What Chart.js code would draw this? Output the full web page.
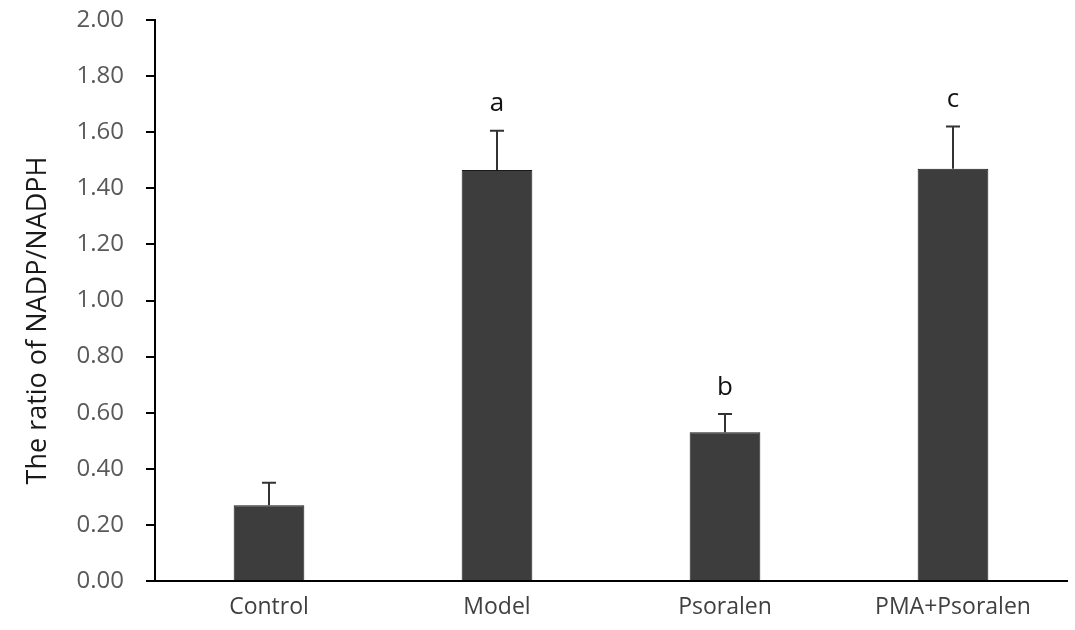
<!DOCTYPE html>
<html>
<head>
<meta charset="utf-8">
<script src="https://cdn.jsdelivr.net/npm/chart.js@4"></script>
<style>
    body { margin: 0; background: #fff; }
    #wrap { width: 1075px; height: 630px; }
</style>
</head>
<body>
<div id="wrap"><canvas id="ratioChart"></canvas></div>
<script>
// Data
const categories = ['Control', 'Model', 'Psoralen', 'PMA+Psoralen'];
const ratioValues = [0.27, 1.465, 0.53, 1.47];
const errorValues = [0.08, 0.14, 0.065, 0.15];
const sigLetters = ['', 'a', 'b', 'c'];
const yTicks = [0, 0.2, 0.4, 0.6, 0.8, 1.0, 1.2, 1.4, 1.6, 1.8, 2.0];
const yTitle = 'The ratio of NADP/NADPH';

const FONT = '"Open Sans", "Noto Sans", sans-serif';

// Error bars (upper only) + significance letters
const errorBarPlugin = {
    id: 'errorBars',
    afterDatasetsDraw(chart) {
        const ctx = chart.ctx;
        const yScale = chart.scales.y;
        const meta = chart.getDatasetMeta(0);
        ctx.save();
        meta.data.forEach((bar, i) => {
            const top = yScale.getPixelForValue(ratioValues[i] + errorValues[i]);
            const base = yScale.getPixelForValue(ratioValues[i]);
            ctx.strokeStyle = '#333';
            ctx.lineWidth = 2;
            ctx.beginPath();
            ctx.moveTo(bar.x, base);
            ctx.lineTo(bar.x, top);
            ctx.moveTo(bar.x - 7, top);
            ctx.lineTo(bar.x + 7, top);
            ctx.stroke();

            if (sigLetters[i]) {
                ctx.fillStyle = '#111';
                ctx.font = '26px ' + FONT;
                ctx.textAlign = 'center';
                ctx.textBaseline = 'middle';
                ctx.fillText(sigLetters[i], bar.x, top - 27);
            }
        });
        ctx.restore();
    }
};

// Y axis title, sits a bit below the plot centre like the original
const yTitlePlugin = {
    id: 'yTitle',
    afterDraw(chart) {
        const ctx = chart.ctx;
        const area = chart.chartArea;
        ctx.save();
        ctx.translate(46, (area.top + area.bottom) / 2 + 20);
        ctx.rotate(-Math.PI / 2);
        ctx.fillStyle = '#1a1a1a';
        ctx.font = '27px ' + FONT;
        ctx.textAlign = 'center';
        ctx.textBaseline = 'alphabetic';
        ctx.fillText(yTitle, 0, 0);
        ctx.restore();
    }
};

new Chart(document.getElementById('ratioChart').getContext('2d'), {
    type: 'bar',
    data: {
        labels: categories,
        datasets: [{
            data: ratioValues,
            backgroundColor: '#3d3d3d',
            borderColor: '#1a1a1a',
            borderWidth: 1,
            categoryPercentage: 1.0,
            barPercentage: 0.31
        }]
    },
    options: {
        responsive: true,
        maintainAspectRatio: false,
        animation: false,
        layout: { autoPadding: false, padding: { top: 20, right: 8, left: 0, bottom: 0 } },
        plugins: {
            legend: { display: false },
            tooltip: { enabled: false }
        },
        scales: {
            x: {
                grid: { display: false, drawTicks: false },
                border: { color: '#000', width: 2 },
                ticks: { color: '#404040', font: { family: FONT, size: 23 }, padding: 13 },
                afterFit: (scale) => { scale.height = 49; scale.paddingLeft = 0; scale.paddingRight = 0; }
            },
            y: {
                min: 0,
                max: 2.0,
                afterBuildTicks: (scale) => { scale.ticks = yTicks.map(v => ({ value: v })); },
                grid: { drawOnChartArea: false, drawTicks: true, tickLength: 9, color: '#000', lineWidth: 2 },
                border: { color: '#000', width: 2 },
                ticks: {
                    color: '#595959',
                    font: { family: FONT, size: 24 },
                    padding: 22,
                    callback: (v) => Number(v).toFixed(2)
                },
                afterFit: (scale) => { scale.width = 155; scale.paddingTop = 0; scale.paddingBottom = 0; }
            }
        }
    },
    plugins: [errorBarPlugin, yTitlePlugin]
});
</script>
</body>
</html>
